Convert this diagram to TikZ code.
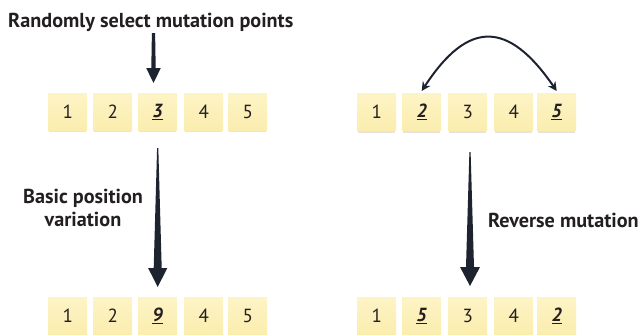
\documentclass[tikz,border=0pt]{standalone}
\usepackage{fontspec}
\setmainfont{PT Sans}
\usetikzlibrary{arrows.meta}
\definecolor{boxfill}{HTML}{FBEDAE}
\definecolor{boxtop}{HTML}{FDF4C6}
\definecolor{ink}{HTML}{231F20}
\definecolor{arrowc}{HTML}{1E2330}
\definecolor{shadowc}{HTML}{E6E4DC}
\newcommand\mk[1]{\underline{\textbf{\textit{#1}}}}
\tikzset{
  cell/.style={minimum width=39pt, minimum height=37pt, inner sep=0pt, anchor=north west,
    top color=boxtop, bottom color=boxfill, text=ink, font=\fontsize{19}{19}\selectfont},
  lbl/.style={inner sep=0pt, text=ink, font=\fontsize{20.2}{23}\selectfont\bfseries},
  fatarrow/.style={fill=arrowc},
  swaparrow/.style={draw=arrowc, line width=2pt, {Stealth[length=9pt,width=9pt]}-{Stealth[length=9pt,width=9pt]}}
}
\begin{document}
\begin{tikzpicture}[x=1pt,y=-1pt]
\useasboundingbox (0,0) rectangle (639,335);
% rows of cells
\foreach \x/\t [count=\i] in {48/1,93/2,138/\mk{3},184/4,228/5}{
  \fill[shadowc] (\x+1,130) rectangle (\x+38,132);
  \node[cell] (a\i) at (\x,93) {\t};
}
\foreach \x/\t [count=\i] in {357/1,402/\mk{2},448/3,494/4,537/\mk{5}}{
  \fill[shadowc] (\x+1,131) rectangle (\x+38,133);
  \node[cell] (b\i) at (\x,93) {\t};
}
\foreach \x/\t [count=\i] in {48/1,93/2,138/\mk{9},184/4,228/5}{
  \node[cell] (c\i) at (\x,297) {\t};
}
\foreach \x/\t [count=\i] in {357/1,402/\mk{5},448/3,494/4,537/\mk{2}}{
  \node[cell] (d\i) at (\x,297) {\t};
}
% labels
\node[lbl, anchor=base west] (title) at (8,27) {Randomly select mutation points};
\node[lbl, anchor=base, align=center] (basic) at (83,226) {Basic position\\variation};
\node[lbl, anchor=base west] (rev) at (488,227) {Reverse mutation};
% arrows
\fill[fatarrow] (151.9,33) -- (155.1,33) -- (155.7,68) -- (160.8,68) -- (153.5,83) -- (146.2,68) -- (151.3,68) -- cycle;
\fill[fatarrow] (157.1,148) -- (158.3,148) -- (161.7,268) -- (167.3,268) -- (157.7,287) -- (148.1,268) -- (153.7,268) -- cycle;
\fill[fatarrow] (469.4,152) -- (470.6,152) -- (474,267) -- (480,267) -- (470,286) -- (460,267) -- (466,267) -- cycle;
\draw[swaparrow] ([yshift=2pt]b2.north) .. controls (468,20) and (508,20) .. ([yshift=2pt]b5.north);
\end{tikzpicture}
\end{document}
